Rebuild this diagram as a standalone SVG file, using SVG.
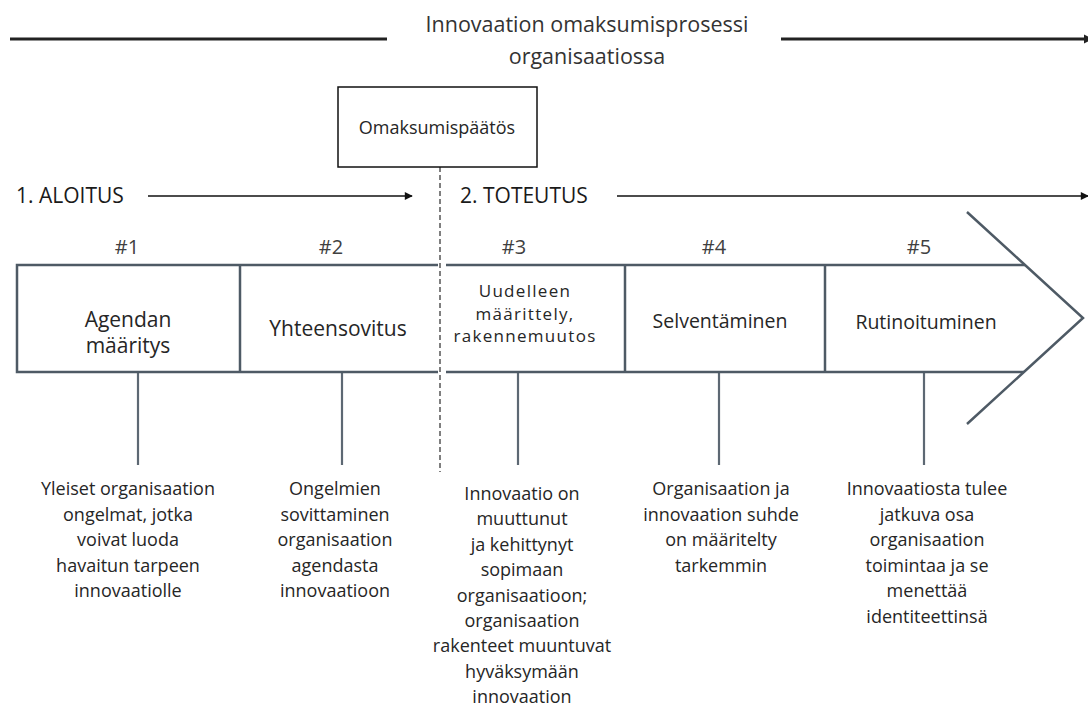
<svg xmlns="http://www.w3.org/2000/svg" width="1088" height="707" viewBox="0 0 1088 707">
<style>
text{font-family:"Open Sans","Noto Sans","DejaVu Sans",sans-serif;fill:#262626;text-anchor:middle}
.title{font-size:21.5px;fill:#333}
.hash{font-size:20px;fill:#404040}
.phase{font-size:21px;text-anchor:start;fill:#1a1a1a}
.lbl{font-size:21px}
.lbl2{font-size:19.5px}
.lbl3{font-size:17px;letter-spacing:1.3px}
.desc{font-size:18px}
.row{fill:none;stroke:#4e5a65;stroke-width:2.5;stroke-linejoin:miter}
.stem{stroke:#5d6873;stroke-width:2.2}
.thin{stroke:#111;stroke-width:1.6;fill:none}
.thick{stroke:#222;stroke-width:3;fill:none}
</style>
<defs>
<marker id="ah" viewBox="0 0 10 10" refX="9" refY="5" markerWidth="10" markerHeight="8" markerUnits="userSpaceOnUse" orient="auto">
<path d="M0,0 L10,5 L0,10 z" fill="#111"/>
</marker>
<marker id="ah2" viewBox="0 0 10 10" refX="9" refY="5" markerWidth="9" markerHeight="10" markerUnits="userSpaceOnUse" orient="auto">
<path d="M0,0 L10,5 L0,10 z" fill="#222"/>
</marker>
</defs>

<g id="title">
<text class="title" x="587" y="32">Innovaation omaksumisprosessi</text>
<text class="title" x="587" y="64">organisaatiossa</text>
</g>

<g id="connectors">
<line class="thick" x1="10" y1="39" x2="387" y2="39"/>
<line class="thick" x1="781" y1="39" x2="1092" y2="39" marker-end="url(#ah2)"/>
<line class="thin" x1="148" y1="196" x2="412" y2="196" marker-end="url(#ah)"/>
<line class="thin" x1="617" y1="196" x2="1088" y2="196" marker-end="url(#ah)"/>
<line x1="440" y1="167" x2="440" y2="472" stroke="#7f7f7f" stroke-width="2" stroke-dasharray="5 3"/>
<line class="stem" x1="138" y1="372" x2="138" y2="465"/>
<line class="stem" x1="342" y1="372" x2="342" y2="465"/>
<line class="stem" x1="518" y1="372" x2="518" y2="465"/>
<line class="stem" x1="719" y1="372" x2="719" y2="465"/>
<line class="stem" x1="924" y1="372" x2="924" y2="465"/>
</g>

<g id="decision">
<rect x="338" y="87" width="199" height="80" fill="#fff" stroke="#111" stroke-width="1.5"/>
<text x="437" y="134" style="font-size:18px">Omaksumispäätös</text>
</g>

<g id="phases">
<text class="phase" x="16" y="203">1. ALOITUS</text>
<text class="phase" x="460" y="203">2. TOTEUTUS</text>
</g>

<g id="hashes">
<text class="hash" x="127" y="254">#1</text>
<text class="hash" x="331" y="254">#2</text>
<text class="hash" x="514" y="254">#3</text>
<text class="hash" x="714" y="254">#4</text>
<text class="hash" x="919" y="254">#5</text>
</g>

<g id="process-arrow">
<path class="row" d="M438,265 L17,265 L17,372 L438,372"/>
<path class="row" d="M446,265 L1025,265 M446,372 L1024,372"/>
<path class="row" d="M967,212 L1083,318 L967,424"/>
<line class="row" x1="240" y1="265" x2="240" y2="372"/>
<line class="row" x1="625" y1="265" x2="625" y2="372"/>
<line class="row" x1="825" y1="265" x2="825" y2="372"/>
</g>

<g id="step1">
<text class="lbl" x="128" y="327">Agendan</text>
<text class="lbl" x="128" y="353">määritys</text>
<text class="desc" x="128" y="495">Yleiset organisaation</text>
<text class="desc" x="128" y="521">ongelmat, jotka</text>
<text class="desc" x="128" y="546">voivat luoda</text>
<text class="desc" x="128" y="572">havaitun tarpeen</text>
<text class="desc" x="128" y="597">innovaatiolle</text>
</g>

<g id="step2">
<text class="lbl" x="338" y="336">Yhteensovitus</text>
<text class="desc" x="335" y="495">Ongelmien</text>
<text class="desc" x="335" y="521">sovittaminen</text>
<text class="desc" x="335" y="546">organisaation</text>
<text class="desc" x="335" y="572">agendasta</text>
<text class="desc" x="335" y="597">innovaatioon</text>
</g>

<g id="step3">
<text class="lbl3" x="525" y="297">Uudelleen</text>
<text class="lbl3" x="525" y="320">määrittely,</text>
<text class="lbl3" x="525" y="342">rakennemuutos</text>
<text class="desc" x="522" y="500">Innovaatio on</text>
<text class="desc" x="522" y="525">muuttunut</text>
<text class="desc" x="522" y="551">ja kehittynyt</text>
<text class="desc" x="522" y="576">sopimaan</text>
<text class="desc" x="522" y="602">organisaatioon;</text>
<text class="desc" x="522" y="627">organisaation</text>
<text class="desc" x="522" y="652">rakenteet muuntuvat</text>
<text class="desc" x="522" y="678">hyväksymään</text>
<text class="desc" x="522" y="703">innovaation</text>
</g>

<g id="step4">
<text class="lbl2" x="720" y="328">Selventäminen</text>
<text class="desc" x="721" y="495">Organisaation ja</text>
<text class="desc" x="721" y="521">innovaation suhde</text>
<text class="desc" x="721" y="546">on määritelty</text>
<text class="desc" x="721" y="572">tarkemmin</text>
</g>

<g id="step5">
<text class="lbl2" x="926" y="329">Rutinoituminen</text>
<text class="desc" x="927" y="495">Innovaatiosta tulee</text>
<text class="desc" x="927" y="521">jatkuva osa</text>
<text class="desc" x="927" y="546">organisaation</text>
<text class="desc" x="927" y="572">toimintaa ja se</text>
<text class="desc" x="927" y="597">menettää</text>
<text class="desc" x="927" y="623">identiteettinsä</text>
</g>
</svg>
